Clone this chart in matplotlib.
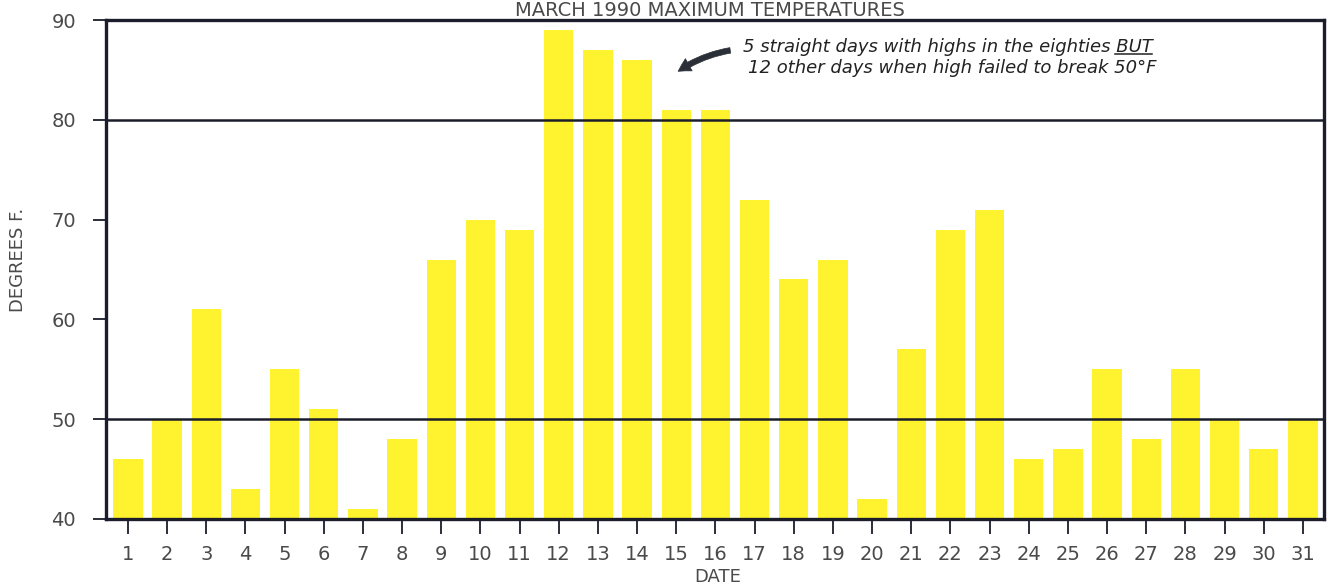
import matplotlib
matplotlib.use("Agg")
import matplotlib.pyplot as plt
from matplotlib.lines import Line2D

# ---- data ----
dates = list(range(1, 32))
max_temps = [46, 50, 61, 43, 55, 51, 41, 48, 66, 70, 69, 89, 87, 86, 81, 81,
             72, 64, 66, 42, 57, 69, 71, 46, 47, 55, 48, 55, 50, 47, 50]
y_ticks = [40, 50, 60, 70, 80, 90]
ref_lines = [50, 80]
title = "MARCH 1990 MAXIMUM TEMPERATURES"
note_line1 = "5 straight days with highs in the eighties BUT"
note_line2 = "12 other days when high failed to break 50°F"
underlined_word = "BUT"

BAR = '#FFF22E'
INK = '#1b1d2b'
TXT = '#4a4a4a'

fig = plt.figure(figsize=(13.28, 5.84), dpi=100)
ax = fig.add_axes([106/1328, 1-519/584, 1218/1328, 499/584])

ax.bar(dates, max_temps, width=0.75, color=BAR, zorder=2)
for v in ref_lines:
    ax.axhline(v, color=INK, lw=1.8, zorder=3)

ax.set_ylim(40, 90)
ax.set_xlim(0.44, 31.54)
ax.set_yticks(y_ticks)
ax.set_xticks(dates)
ax.set_xticklabels([str(d) for d in dates])

for s in ax.spines.values():
    s.set_linewidth(2.4)
    s.set_color(INK)
    s.set_zorder(4)

ax.tick_params(axis='y', direction='out', length=9.5, width=1.3, color=INK,
               labelsize=14, labelcolor=TXT, pad=12)
ax.tick_params(axis='x', direction='out', length=10.5, width=1.3, color=INK,
               labelsize=14, labelcolor=TXT, pad=8)

ax.set_ylabel("DEGREES F.", fontsize=13, color=TXT, va='center')
ax.yaxis.set_label_coords(-0.072, 0.52)
ax.set_xlabel("DATE", fontsize=13, color=TXT)
ax.xaxis.set_label_coords(0.502, -0.098)

fig.text(710/1328, 1-16/584, title, ha='center', va='baseline', fontsize=14,
         color=TXT)

# annotation
ax.annotate('', xy=(14.99, 84.7), xytext=(16.45, 87.0),
            arrowprops=dict(arrowstyle='simple,head_length=0.9,head_width=1.0,tail_width=0.4',
                            connectionstyle='arc3,rad=0.12', color='#2b3038', lw=0.5),
            zorder=5)
FS = 13
t1 = ax.text(16.70, 86.8, note_line1, fontsize=FS, style='italic', color='#222',
             ha='left', va='baseline', zorder=5)
t2 = ax.text(16.83, 84.7, note_line2, fontsize=FS, style='italic', color='#222',
             ha='left', va='baseline', zorder=5)

fig.canvas.draw()
r = fig.canvas.get_renderer()
bb = t1.get_window_extent(r)
tmp = ax.text(0, 0, underlined_word, fontsize=FS, style='italic')
wb = tmp.get_window_extent(r).width
tmp.remove()
inv = ax.transData.inverted()
base_px = ax.transData.transform((16.70, 86.8))[1]
(xa, ya) = inv.transform((bb.x1 - wb - 1, base_px - 2.5))
(xb, _) = inv.transform((bb.x1 - 1, base_px - 2.5))
ax.add_line(Line2D([xa, xb], [ya, ya], color='#222', lw=1.1, zorder=5))

fig.savefig("out.png", dpi=100)
